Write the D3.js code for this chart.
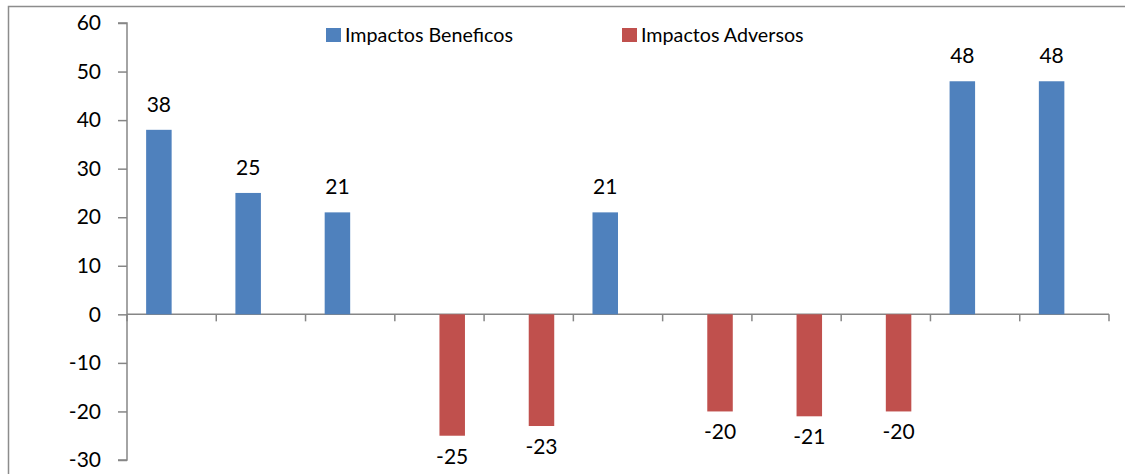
<!DOCTYPE html>
<html>
<head>
<meta charset="utf-8">
<script src="https://cdn.jsdelivr.net/npm/d3@7"></script>
<style>
    body { margin: 0; background: #fff; }
    svg text { font-family: Lato, "Open Sans", sans-serif; fill: #000; }
</style>
</head>
<body>
<div id="content"></div>
<script>
/*
    Chart data
*/
var categories = ["1", "2", "3", "4", "5", "6", "7", "8", "9", "10", "11"];
var seriesNames = ["Impactos Beneficos", "Impactos Adversos"];
var beneficos = [38, 25, 21, null, null, 21, null, null, null, 48, 48];
var adversos = [null, null, null, -25, -23, null, -20, -21, -20, null, null];
var yTicks = [-30, -20, -10, 0, 10, 20, 30, 40, 50, 60];
var colors = ["#4F81BD", "#C0504D"];

/*
    Dimensions
*/
var realW = 1125, realH = 474,
    margin = { top: 23, left: 127, right: 16, bottom: 14 },
    fontSize = 21,
    legendFont = 19.7;

var svg = d3.select("#content").append("svg")
    .attr("width", realW)
    .attr("height", realH);

// outer chart border (right / bottom edges fall off the picture)
svg.append("rect")
    .attr("x", 8.5).attr("y", 6.5)
    .attr("width", realW + 20).attr("height", realH)
    .style("fill", "none")
    .style("stroke", "#8c8c8c")
    .style("stroke-width", 1.5);

var x0 = d3.scaleBand()
    .domain(categories)
    .range([margin.left, realW - margin.right]);

var x1 = d3.scaleBand()
    .domain(seriesNames)
    .range([0, x0.bandwidth()])
    .paddingOuter(0.75);

var y = d3.scaleLinear()
    .domain([-30, 60])
    .range([realH - margin.bottom, margin.top]);

/*
    Y axis
*/
var yAxis = d3.axisLeft(y)
    .tickValues(yTicks)
    .tickSize(9)
    .tickPadding(17)
    .tickFormat(function (d) { return String(d); });

var gy = svg.append("g")
    .attr("transform", "translate(" + margin.left + ",0)")
    .call(yAxis);
gy.selectAll("path, line").style("stroke", "#868686").style("stroke-width", 1.5);
gy.select(".domain").attr("d", "M-9," + y(60) + "H0V" + y(-30) + "H-9");
gy.selectAll("text")
    .style("font-size", fontSize + "px")
    .style("font-family", "Lato, sans-serif");

/*
    X axis at zero, ticks on category boundaries
*/
var gx = svg.append("g").attr("class", "xaxis");
gx.append("line")
    .attr("x1", x0.range()[0]).attr("x2", x0.range()[1])
    .attr("y1", y(0)).attr("y2", y(0))
    .style("stroke", "#868686").style("stroke-width", 1.5);
var edges = categories.map(function (c) { return x0(c); }).concat([x0.range()[1]]);
gx.selectAll("line.tick")
    .data(edges)
    .enter().append("line")
    .attr("class", "tick")
    .attr("x1", function (d) { return d; })
    .attr("x2", function (d) { return d; })
    .attr("y1", y(0))
    .attr("y2", y(0) + 7)
    .style("stroke", "#868686").style("stroke-width", 1.5);

/*
    Bars and labels
*/
var allSeries = [beneficos, adversos];
allSeries.forEach(function (vals, s) {
    var pts = vals.map(function (v, i) { return { cat: categories[i], v: v }; })
        .filter(function (d) { return d.v !== null; });
    var g = svg.append("g");
    g.selectAll("rect")
        .data(pts)
        .enter().append("rect")
        .attr("x", function (d) { return x0(d.cat) + x1(seriesNames[s]); })
        .attr("width", x1.bandwidth())
        .attr("y", function (d) { return y(Math.max(0, d.v)); })
        .attr("height", function (d) { return Math.abs(y(d.v) - y(0)); })
        .style("fill", colors[s]);
    g.selectAll("text")
        .data(pts)
        .enter().append("text")
        .attr("x", function (d) { return x0(d.cat) + x1(seriesNames[s]) + x1.bandwidth() / 2; })
        .attr("y", function (d) { return d.v >= 0 ? y(d.v) - 18 : y(d.v) + 28; })
        .attr("text-anchor", "middle")
        .style("font-size", fontSize + "px")
        .text(function (d) { return d.v; });
});

/*
    Legend
*/
var legendX = [326, 622];
var legend = svg.append("g");
seriesNames.forEach(function (name, i) {
    legend.append("rect")
        .attr("x", legendX[i]).attr("y", 28)
        .attr("width", 15).attr("height", 14)
        .style("fill", colors[i]);
    legend.append("text")
        .attr("x", legendX[i] + 19).attr("y", 42)
        .style("font-size", legendFont + "px")
        .text(name);
});
</script>
</body>
</html>
